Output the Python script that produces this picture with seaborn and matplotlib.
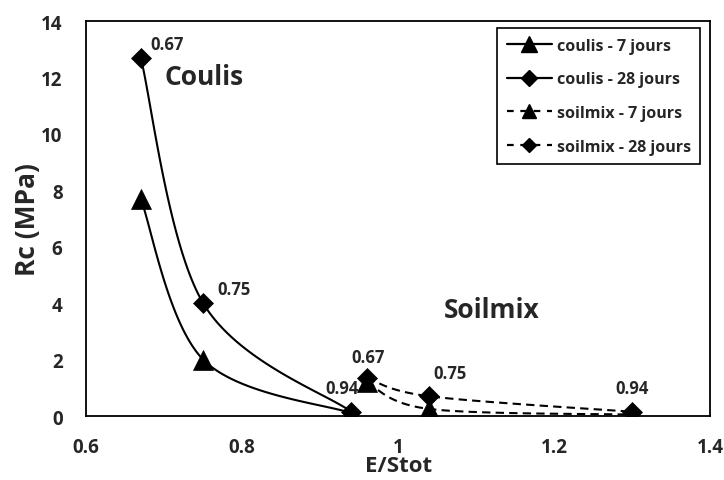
import numpy as np
import pandas as pd
import matplotlib
matplotlib.use("Agg")
import matplotlib.pyplot as plt
from matplotlib.lines import Line2D
import seaborn as sns

# ---- data ----
coulis_x = [0.67, 0.75, 0.94]
coulis_7 = [7.7, 2.0, 0.10]
coulis_28 = [12.7, 4.0, 0.15]
soil_x = [0.96, 1.04, 1.30]
soil_7 = [1.20, 0.25, 0.05]
soil_28 = [1.35, 0.70, 0.15]
coulis_labels = ["0.67", "0.75", "0.94"]
soil_labels = ["0.67", "0.75", "0.94"]
series_names = ["coulis - 7 jours", "coulis - 28 jours", "soilmix - 7 jours", "soilmix - 28 jours"]
xticks = [0.6, 0.8, 1.0, 1.2, 1.4]
xtick_labels = ["0.6", "0.8", "1", "1.2", "1.4"]
yticks = [0, 2, 4, 6, 8, 10, 12, 14]

sns.set_theme(style="white")
plt.rcParams['font.family'] = ['Open Sans', 'DejaVu Sans']
plt.rcParams['font.weight'] = 'bold'

fig = plt.figure(figsize=(7.24, 4.81), dpi=100)
ax = fig.add_axes([0.119, 0.133, 0.862, 0.821])
ax.set_xlim(0.6, 1.4)
ax.set_ylim(0, 14)

sx = 624 / 0.8
sy = 395 / 14.0


def smooth(xs, ys, n=60):
    P = np.column_stack([np.array(xs) * sx, np.array(ys) * sy])
    out = []
    m = len(P)
    for i in range(m - 1):
        p0 = P[i - 1] if i > 0 else P[i]
        p1 = P[i]
        p2 = P[i + 1]
        p3 = P[i + 2] if i + 2 < m else P[i + 1]
        c1 = p1 + (p2 - p0) / 6.0
        c2 = p2 - (p3 - p1) / 6.0
        t = np.linspace(0, 1, n)[:, None]
        seg = ((1 - t) ** 3) * p1 + 3 * ((1 - t) ** 2) * t * c1 + 3 * (1 - t) * t ** 2 * c2 + t ** 3 * p2
        out.append(seg if i == 0 else seg[1:])
    S = np.vstack(out)
    return S[:, 0] / sx, S[:, 1] / sy


dash = (0, (4, 2.5))
series = [
    (coulis_x, coulis_7, '^', '-', 15),
    (coulis_x, coulis_28, 'D', '-', 10.5),
    (soil_x, soil_7, '^', dash, 14),
    (soil_x, soil_28, 'D', dash, 10),
]
for xs, ys, mk, ls, ms in series:
    cx, cy = smooth(xs, ys)
    df = pd.DataFrame({"x": cx, "y": cy})
    sns.lineplot(data=df, x="x", y="y", sort=False, estimator=None, ax=ax,
                 color="black", linewidth=1.5, linestyle=ls)
    ax.plot(xs, ys, linestyle='none', marker=mk, markersize=ms, markeredgewidth=0.5,
            color='black', zorder=5)

lab_fs = 12
ax.annotate(coulis_labels[0], (coulis_x[0], coulis_28[0]), xytext=(7, 10), textcoords='offset points',
            fontsize=lab_fs, fontweight='bold', ha='left', va='center')
ax.annotate(coulis_labels[1], (coulis_x[1], coulis_28[1]), xytext=(10, 10), textcoords='offset points',
            fontsize=lab_fs, fontweight='bold', ha='left', va='center')
ax.annotate(coulis_labels[2], (coulis_x[2], coulis_28[2]), xytext=(-7, 17), textcoords='offset points',
            fontsize=lab_fs, fontweight='bold', ha='center', va='center')
ax.annotate(soil_labels[0], (soil_x[0], soil_28[0]), xytext=(1, 15), textcoords='offset points',
            fontsize=lab_fs, fontweight='bold', ha='center', va='center')
ax.annotate(soil_labels[1], (soil_x[1], soil_28[1]), xytext=(15, 17), textcoords='offset points',
            fontsize=lab_fs, fontweight='bold', ha='center', va='center')
ax.annotate(soil_labels[2], (soil_x[2], soil_28[2]), xytext=(0, 17), textcoords='offset points',
            fontsize=lab_fs, fontweight='bold', ha='center', va='center')

ax.text(0.701, 12.05, "Coulis", fontsize=19, fontweight='bold', ha='left', va='center')
ax.text(1.058, 3.79, "Soilmix", fontsize=19, fontweight='bold', ha='left', va='center')

ax.set_xticks(xticks)
ax.set_xticklabels(xtick_labels)
ax.set_yticks(yticks)
ax.tick_params(axis='both', direction='in', length=6, width=1.2, color='black', labelsize=13.5)
for lbl in ax.get_xticklabels() + ax.get_yticklabels():
    lbl.set_fontweight('bold')
ax.tick_params(axis='x', pad=15)
ax.tick_params(axis='y', pad=17)
ax.set_xlabel("E/Stot", fontsize=16, fontweight='bold', labelpad=-1)
ax.set_ylabel("Rc (MPa)", fontsize=19, fontweight='bold', labelpad=0)
for sp in ax.spines.values():
    sp.set_color('black')
    sp.set_linewidth(1.3)
    sp.set_visible(True)

handles = [
    Line2D([], [], color='black', lw=1.6, ls='-', marker='^', markersize=12),
    Line2D([], [], color='black', lw=1.6, ls='-', marker='D', markersize=8),
    Line2D([], [], color='black', lw=1.6, ls=(0, (3, 3)), marker='^', markersize=10),
    Line2D([], [], color='black', lw=1.6, ls=(0, (3, 3)), marker='D', markersize=7),
]
leg = ax.legend(handles, series_names, loc='upper right', bbox_to_anchor=(0.984, 0.982),
                borderaxespad=0, fancybox=False, framealpha=1, edgecolor='black',
                prop={'weight': 'bold', 'size': 11.5}, handlelength=2.8, labelspacing=1.1,
                handletextpad=0.3, borderpad=0.6)
leg.get_frame().set_linewidth(1.2)

fig.savefig("out.png", dpi=100)
